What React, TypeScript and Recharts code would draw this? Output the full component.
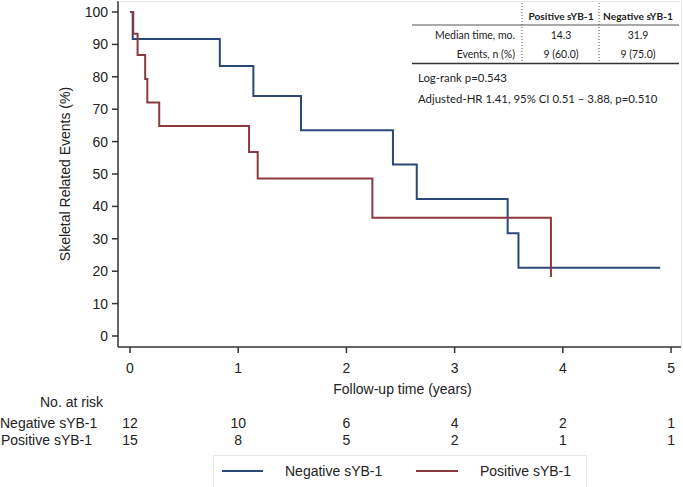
import { LineChart, Line, XAxis, YAxis } from 'recharts'

// Kaplan-Meier steps (years, % without event)
const negTime = [0, 0.025, 0.83, 1.14, 1.58, 2.43, 2.65, 3.49, 3.59, 4.9]
const negSurv = [100, 91.7, 83.3, 74.1, 63.5, 52.9, 42.3, 31.7, 21.1, 21.1]
const posTime = [0, 0.03, 0.07, 0.14, 0.16, 0.27, 1.1, 1.18, 2.24, 3.89]
const posSurv = [100, 93.3, 86.7, 79.3, 72.1, 64.8, 56.8, 48.6, 36.5, 18.2]

const xTicks = [0, 1, 2, 3, 4, 5]
const yTicks = [0, 10, 20, 30, 40, 50, 60, 70, 80, 90, 100]

const riskNeg = [12, 10, 6, 4, 2, 1]
const riskPos = [15, 8, 5, 2, 1, 1]

const tableHead = ['Positive sYB-1', 'Negative sYB-1']
const tableRows = [
  ['Median time, mo.', '14.3', '31.9'],
  ['Events, n (%)', '9 (60.0)', '9 (75.0)'],
]
const statLines = ['Log-rank p=0.543', 'Adjusted-HR 1.41, 95% CI 0.51 \u2013 3.88, p=0.510']

const negData = negTime.map((t, i) => ({ t, s: negSurv[i] }))
const posData = posTime.map((t, i) => ({ t, s: posSurv[i] }))

const BLUE = '#2c4878'
const RED = '#8a3a3f'
const AXIS = '#333'
const FONT = '"Liberation Sans", Arial, sans-serif'
const TFONT = 'Lato, "Open Sans", sans-serif'

const YTitle = (props: any) => {
  const vb = props.viewBox
  const cx = 65
  const cy = vb.y + vb.height / 2
  return (
    <text x={cx} y={cy} transform={`rotate(-90 ${cx} ${cy})`} textAnchor="middle"
      dominantBaseline="central" fontSize={14} fill="#222" fontFamily={FONT}>
      Skeletal Related Events (%)
    </text>
  )
}

const XTitle = (props: any) => {
  const vb = props.viewBox
  return (
    <text x={vb.x + vb.width / 2 + 3} y={389} textAnchor="middle" dominantBaseline="central"
      fontSize={14} fill="#222" fontFamily={FONT}>
      Follow-up time (years)
    </text>
  )
}

const RiskTick = (props: any) => {
  const { x, index } = props
  return (
    <g fontSize={14} fill="#222" fontFamily={FONT}>
      <text x={x} y={423} textAnchor="middle" dominantBaseline="central" fill="#222">{riskNeg[index]}</text>
      <text x={x} y={440} textAnchor="middle" dominantBaseline="central" fill="#222">{riskPos[index]}</text>
    </g>
  )
}

function Overlay() {
  const rowY = [35, 53.5]
  return (
    <svg width={683} height={487} style={{ position: 'absolute', left: 0, top: 0, pointerEvents: 'none' }}>
      {/* plot region frame */}
      <path d="M118.5,1.5 H681.5 V347" fill="none" stroke="#e3eaee" strokeWidth={1} />

      {/* table */}
      <g fontFamily={TFONT} fontSize={10.5} fill="#222">
        <line x1={522} x2={522} y1={3} y2={63} stroke="#555" strokeDasharray="1 2" />
        <line x1={599} x2={599} y1={3} y2={63} stroke="#555" strokeDasharray="1 2" />
        <line x1={412} x2={679} y1={25} y2={25} stroke="#555" strokeWidth={1} />
        <line x1={412} x2={679} y1={63.5} y2={63.5} stroke="#333" strokeWidth={1.5} />
        {tableHead.map((h, i) => (
          <text key={h} x={i === 0 ? 561 : 638} y={15.5} textAnchor="middle" dominantBaseline="central"
            fontWeight="bold" fontSize={10.2}>{h}</text>
        ))}
        {tableRows.map((r, i) => (
          <g key={r[0]}>
            <text x={515} y={rowY[i]} textAnchor="end" dominantBaseline="central">{r[0]}</text>
            <text x={561} y={rowY[i]} textAnchor="middle" dominantBaseline="central">{r[1]}</text>
            <text x={638} y={rowY[i]} textAnchor="middle" dominantBaseline="central">{r[2]}</text>
          </g>
        ))}
        {statLines.map((s, i) => (
          <text key={s} x={418} y={77 + i * 21} dominantBaseline="central" fontSize={11.4}>{s}</text>
        ))}
      </g>

      {/* number at risk labels */}
      <g fontFamily={FONT} fontSize={14} fill="#222">
        <text x={103} y={402} textAnchor="end" dominantBaseline="central">No. at risk</text>
        <text x={0} y={423} dominantBaseline="central">Negative sYB-1</text>
        <text x={1} y={440} dominantBaseline="central">Positive sYB-1</text>
      </g>

      {/* legend */}
      <rect x={213.5} y={455.5} width={373} height={40} fill="none" stroke="#e3eaee" />
      <line x1={222} x2={263} y1={471} y2={471} stroke={BLUE} strokeWidth={2} />
      <text x={285} y={471} fontFamily={FONT} fontSize={14} fill="#222" dominantBaseline="central">Negative sYB-1</text>
      <line x1={416} x2={458} y1={471} y2={471} stroke={RED} strokeWidth={2} />
      <text x={480} y={471} fontFamily={FONT} fontSize={14} fill="#222" dominantBaseline="central">Positive sYB-1</text>
    </svg>
  )
}

export default function App() {
  return (
    <div style={{ position: 'absolute', left: 0, top: 0, width: 683, height: 487, background: '#fff' }}>
      <LineChart width={683} height={487} margin={{ top: 1, right: 2, bottom: 0, left: 0 }}>
        <XAxis
          type="number"
          dataKey="t"
          domain={[-0.111, 5.092]}
          allowDataOverflow
          ticks={xTicks}
          height={48}
          tickSize={6}
          tickMargin={10}
          stroke={AXIS}
          strokeWidth={1.5}
          tick={{ fontSize: 14, fill: '#222', fontFamily: FONT }}
          label={XTitle}
        />
        <XAxis
          xAxisId="risk"
          type="number"
          dataKey="t"
          domain={[-0.111, 5.092]}
          allowDataOverflow
          ticks={xTicks}
          height={92}
          axisLine={false}
          tickLine={false}
          tick={RiskTick}
        />
        <YAxis
          type="number"
          domain={[-3.4, 103.4]}
          allowDataOverflow
          ticks={yTicks}
          width={118}
          tickSize={6}
          tickMargin={4}
          stroke={AXIS}
          strokeWidth={1.5}
          tick={{ fontSize: 14, fill: '#222', fontFamily: FONT }}
          label={YTitle}
        />
        <Line data={negData} dataKey="s" type="stepAfter" stroke={BLUE} strokeWidth={2}
          dot={false} isAnimationActive={false} />
        <Line data={posData} dataKey="s" type="stepAfter" stroke={RED} strokeWidth={2}
          dot={false} isAnimationActive={false} />
      </LineChart>
      <Overlay />
    </div>
  )
}
